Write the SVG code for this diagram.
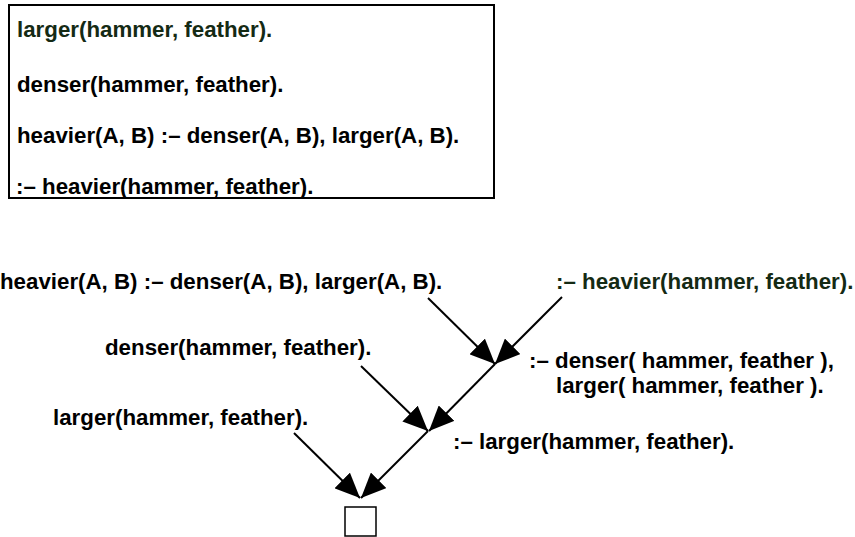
<svg xmlns="http://www.w3.org/2000/svg" width="855" height="537" viewBox="0 0 855 537">
<style>
text { font-family: "Liberation Sans", Arial, sans-serif; font-weight: bold; font-size: 22.3px; fill: #000; }
.g { fill: #142a14; }
.c { stroke: #000; stroke-width: 2; fill: none; marker-end: url(#ah); }
</style>
<defs>
<marker id="ah" markerUnits="userSpaceOnUse" markerWidth="26" markerHeight="22" viewBox="0 0 26 22" refX="25" refY="11" orient="auto">
<path d="M0,0 L25,11 L0,22 z" fill="#000"/>
</marker>
</defs>
<g id="program">
<rect x="9" y="5" width="485" height="193" fill="#fff" stroke="#000" stroke-width="2"/>
<text class="g" x="17" y="37">larger(hammer, feather).</text>
<text x="17" y="92">denser(hammer, feather).</text>
<text x="17" y="143">heavier(A, B) :– denser(A, B), larger(A, B).</text>
<text x="16" y="194">:– heavier(hammer, feather).</text>
</g>
<g id="connectors">
<line class="c" x1="428" y1="298" x2="495" y2="364"/>
<line class="c" x1="562" y1="297" x2="495" y2="364"/>
<line class="c" x1="495" y1="364" x2="429" y2="431"/>
<line class="c" x1="361" y1="366" x2="428" y2="431"/>
<line class="c" x1="428" y1="431" x2="361" y2="498"/>
<line class="c" x1="294" y1="433" x2="360" y2="498"/>
</g>
<g id="rule"><text x="0" y="289">heavier(A, B) :– denser(A, B), larger(A, B).</text></g>
<g id="goal"><text class="g" x="556" y="289">:– heavier(hammer, feather).</text></g>
<g id="fact-denser"><text x="105" y="355">denser(hammer, feather).</text></g>
<g id="resolvent1">
<text x="529" y="368">:– denser( hammer, feather ),</text>
<text x="556" y="393">larger( hammer, feather ).</text>
</g>
<g id="fact-larger"><text x="53" y="425">larger(hammer, feather).</text></g>
<g id="resolvent2"><text x="453" y="449">:– larger(hammer, feather).</text></g>
<g id="empty"><rect x="345" y="507" width="31" height="29" fill="#fff" stroke="#000" stroke-width="1.5"/></g>
</svg>
